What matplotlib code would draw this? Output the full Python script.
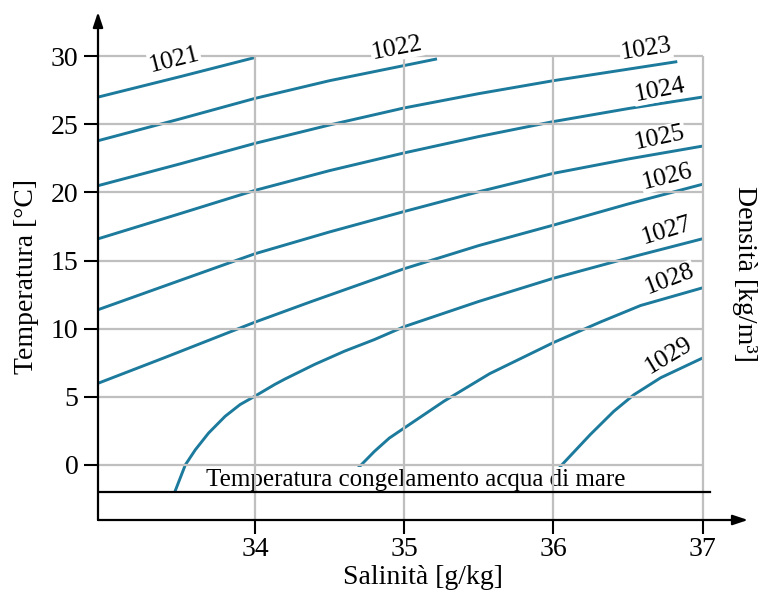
import matplotlib
matplotlib.use("Agg")
import matplotlib.pyplot as plt
import numpy as np

plt.rcParams['font.family'] = ['Liberation Serif', 'DejaVu Serif']

# ---- data (salinity g/kg, temperature °C) ----
s_1021 = [32.95, 33.5, 34.0]
t_1021 = [27.0, 28.5, 29.9]
s_1022 = [32.95, 33.5, 34.0, 34.5, 35.22]
t_1022 = [23.8, 25.4, 26.9, 28.2, 29.8]
s_1023 = [32.95, 33.5, 34.0, 34.5, 35.0, 35.5, 36.0, 36.83]
t_1023 = [20.5, 22.1, 23.6, 24.95, 26.2, 27.25, 28.2, 29.6]
s_1024 = [32.95, 33.5, 34.0, 34.5, 35.0, 35.5, 36.0, 36.5, 37.0]
t_1024 = [16.6, 18.45, 20.15, 21.6, 22.9, 24.1, 25.2, 26.15, 27.0]
s_1025 = [32.95, 33.5, 34.0, 34.5, 35.0, 35.5, 36.0, 36.5, 37.0]
t_1025 = [11.4, 13.55, 15.5, 17.1, 18.6, 20.05, 21.4, 22.45, 23.4]
s_1026 = [32.95, 33.4, 34.0, 34.38, 35.0, 35.5, 36.0, 36.5, 37.0]
t_1026 = [6.0, 7.9, 10.48, 12.0, 14.4, 16.1, 17.6, 19.15, 20.6]
s_1027 = [33.462, 33.533, 33.60, 33.689, 33.80, 33.90, 34.0, 34.133, 34.2, 34.4,
          34.6, 34.8, 35.0, 35.5, 36.0, 36.54, 37.0]
t_1027 = [-2.0, 0.0, 1.11, 2.34, 3.57, 4.43, 5.05, 5.91, 6.30, 7.38,
          8.35, 9.20, 10.15, 12.0, 13.7, 15.3, 16.6]
s_1028 = [34.607, 34.689, 34.80, 34.90, 35.0, 35.133, 35.267, 35.573, 36.0,
          36.315, 36.584, 37.0]
t_1028 = [-2.0, -0.25, 0.99, 1.97, 2.71, 3.69, 4.68, 6.7, 8.98,
          10.49, 11.70, 13.0]
s_1029 = [35.91, 36.056, 36.247, 36.404, 36.539, 36.719, 37.0]
t_1029 = [-2.0, 0.0, 2.23, 3.93, 5.15, 6.4, 7.85]

curve_names = ['1021', '1022', '1023', '1024', '1025', '1026', '1027', '1028', '1029']
curve_s = [s_1021, s_1022, s_1023, s_1024, s_1025, s_1026, s_1027, s_1028, s_1029]
curve_t = [t_1021, t_1022, t_1023, t_1024, t_1025, t_1026, t_1027, t_1028, t_1029]

# label anchors (salinity, temperature, rotation)
label_s = [33.46, 34.95, 36.62, 36.71, 36.71, 36.76, 36.76, 36.78, 36.77]
label_t = [29.75, 30.55, 30.5, 27.5, 24.0, 21.15, 17.2, 13.6, 8.05]
label_rot = [14, 11, 9, 11, 12, 14, 17, 21, 31]

x_ticks = [34, 35, 36, 37]
y_ticks = [0, 5, 10, 15, 20, 25, 30]
freeze_t = -2.0
freeze_text = 'Temperatura congelamento acqua di mare'

xlabel = 'Salinità [g/kg]'
ylabel = 'Temperatura [°C]'
rlabel = 'Densità [kg/m³]'

# ---- figure ----
W, H = 761, 597
fig = plt.figure(figsize=(W / 100, H / 100), dpi=100)
ax = fig.add_axes([98 / W, 77 / H, (748 - 98) / W, (520 - 12) / H])
ax.set_xlim(32.948, 37.304)
ax.set_ylim(-4.04, 33.24)
for sp in ax.spines.values():
    sp.set_visible(False)

grid_c = '#bfbfbf'
xmin, xmax = ax.get_xlim()
ymin, ymax = ax.get_ylim()
ax.vlines(x_ticks, ymin, max(y_ticks), colors=grid_c, lw=1.6, zorder=3)
ax.hlines(y_ticks, xmin, max(x_ticks), colors=grid_c, lw=1.6, zorder=3)

line_c = '#1c7a9c'
for s, t in zip(curve_s, curve_t):
    ax.plot(s, t, color=line_c, lw=2.1, zorder=2, solid_capstyle='butt',
            solid_joinstyle='round')

for name, ls, lt, r in zip(curve_names, label_s, label_t, label_rot):
    ax.text(ls, lt, name, fontsize=18.5, rotation=r, rotation_mode='anchor',
            ha='center', va='center', zorder=6,
            bbox=dict(boxstyle='square,pad=0.03', fc='white', ec='none'))

# freezing line
ax.plot([xmin, 37.05], [freeze_t, freeze_t], color='black', lw=1.6, zorder=4)
ax.text(35.08, freeze_t + 0.1, freeze_text, fontsize=18, ha='center', va='bottom',
        zorder=2.5, bbox=dict(boxstyle='square,pad=0.08', fc='white', ec='none'))

# ticks
ax.set_xticks(x_ticks)
ax.set_yticks(y_ticks)
ax.tick_params(axis='both', direction='out', length=10, width=1.5, labelsize=20,
               color='black')
ax.tick_params(axis='x', pad=2)
ax.tick_params(axis='y', pad=4)

# axis arrows
ax.annotate('', xy=(1, 0), xytext=(0, 0), xycoords='axes fraction',
            arrowprops=dict(arrowstyle='-|>,head_length=0.9,head_width=0.3',
                            color='black', lw=1.6, shrinkA=0, shrinkB=0),
            annotation_clip=False, zorder=7)
ax.annotate('', xy=(0, 1), xytext=(0, 0), xycoords='axes fraction',
            arrowprops=dict(arrowstyle='-|>,head_length=0.9,head_width=0.3',
                            color='black', lw=1.6, shrinkA=0, shrinkB=0),
            annotation_clip=False, zorder=7)

fig.text(423 / W, 1 - 578 / H, xlabel, fontsize=20, ha='center', va='center')
fig.text(27 / W, 1 - 276 / H, ylabel, fontsize=20, ha='center', va='center', rotation=90)
fig.text(745 / W, 1 - 274 / H, rlabel, fontsize=20, ha='center', va='center', rotation=-90)

fig.savefig('out.png', dpi=100)
